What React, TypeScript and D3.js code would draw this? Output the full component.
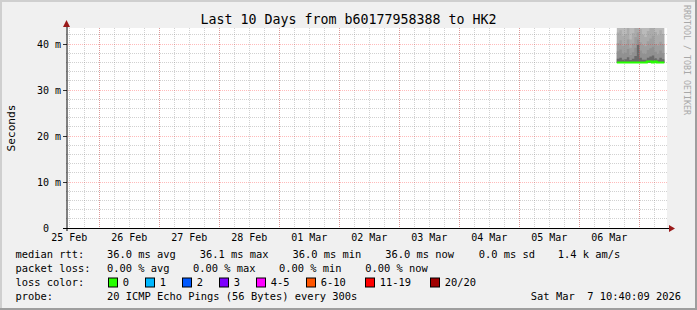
import React, { useEffect } from "react";
import * as d3 from "d3";

// ---------- data ----------
const TITLE = "Last 10 Days from b60177958388 to HK2";
const Y_LABEL = "Seconds";
const WATERMARK = "RRDTOOL / TOBI OETIKER";
const START = new Date(2026, 1, 25, 10, 40, 9);
const END = new Date(2026, 2, 7, 10, 40, 9);
const Y_MAJOR = [0, 10, 20, 30, 40];

// hourly consolidated buckets (start of each step)
const bucketTimes = [
  "2026-03-06T15:00", "2026-03-06T16:00", "2026-03-06T17:00", "2026-03-06T18:00",
  "2026-03-06T19:00", "2026-03-06T20:00", "2026-03-06T21:00", "2026-03-06T22:00",
  "2026-03-06T23:00", "2026-03-07T00:00", "2026-03-07T01:00", "2026-03-07T02:00",
  "2026-03-07T03:00", "2026-03-07T04:00", "2026-03-07T05:00", "2026-03-07T06:00",
  "2026-03-07T07:00", "2026-03-07T08:00", "2026-03-07T09:00", "2026-03-07T10:00",
];
// median rtt (ms)
const medianRtt = [36.0, 36.0, 36.0, 36.0, 36.0, 36.0, 36.0, 36.0, 36.0, 36.0, 36.0, 36.0, 36.2, 36.2, 36.0, 36.2, 36.0, 36.0, 36.0, 36.0];
// smoke: lowest ping and upper ping bands (ms), outer -> inner
const smokeLow = [35.95, 35.95, 35.95, 35.95, 35.95, 35.95, 35.95, 35.95, 35.95, 35.95, 35.95, 35.95, 35.95, 35.95, 35.95, 35.95, 35.95, 35.95, 35.95, 35.95];
const smokeBandA = [58, 61, 55, 57, 63, 54, 59, 66, 70, 60, 56, 55, 62, 64, 67, 58, 55, 60, 57, 57];
const smokeBandB = [42.5, 43.0, 41.8, 42.2, 43.8, 41.0, 42.4, 44.0, 45.0, 43.2, 42.0, 41.5, 42.8, 43.5, 44.2, 42.6, 41.9, 43.0, 42.2, 42.2];
const smokeBandC = [40.2, 40.8, 39.6, 39.9, 41.0, 39.2, 40.1, 41.5, 42.5, 40.4, 39.8, 39.5, 40.6, 41.2, 41.8, 40.0, 39.7, 40.5, 39.9, 39.9];
const smokeBandD = [38.4, 38.8, 37.9, 38.1, 38.9, 37.6, 38.2, 39.2, 41.0, 38.6, 37.9, 37.8, 38.7, 39.1, 39.4, 38.3, 37.8, 38.6, 38.0, 38.0];
const smokeBandE = [36.8, 37.0, 36.6, 36.7, 37.1, 36.5, 36.8, 37.4, 39.8, 37.0, 36.6, 36.6, 37.0, 37.3, 37.5, 36.9, 36.6, 37.0, 36.7, 36.7];
const smokeColors = ["#bababa", "#ababab", "#9e9e9e", "#919191", "#6a6a6a"];

const rttStats = ["36.0 ms avg", "36.1 ms max", "36.0 ms min", "36.0 ms now", "0.0 ms sd", "1.4 k am/s"];
const rttStatX = [107, 199.7, 292.4, 385.2, 478.8, 557.8];
const lossStats = ["0.00 % avg", "0.00 % max", "0.00 % min", "0.00 % now"];
const lossStatX = [107, 193, 279, 365.2];
const lossLabels = ["0", "1", "2", "3", "4-5", "6-10", "11-19", "20/20"];
const lossColors = ["#26ff00", "#00b8ff", "#0059ff", "#7e00ff", "#ff00ff", "#ff5500", "#ff0000", "#a00000"];
const lossBoxX = [108.5, 145.5, 182.5, 219.5, 256.5, 306.5, 365.5, 430.5];
const probeText = "20 ICMP Echo Pings (56 Bytes) every 300s";
const stampText = "Sat Mar  7 10:40:09 2026";

// ---------- layout ----------
const W = 697, H = 310;
const L = 66, R = 666, T = 28, B = 228;
const MONO = "'DejaVu Sans Mono', monospace";

export default function App() {
  useEffect(() => {
    document.body.style.margin = "0";
  }, []);

  const x = d3.scaleTime().domain([START, END]).range([L, R]);
  const y = d3.scaleLinear().domain([0, (B - T) / 4.6]).range([B, T]);
  const px = (v: number) => Math.floor(v) + 0.5;

  const minorX = d3.timeHour.every(6)!.range(START, END);
  const majorX = d3.timeDay.range(START, END);
  const labelX = d3.timeDay
    .range(d3.timeDay.floor(START), END)
    .map((d) => d3.timeHour.offset(d, 12))
    .filter((d) => d >= START && d <= END);
  const minorY = d3.range(2, 44, 2).filter((v) => v % 10 !== 0);
  const fmt = d3.timeFormat("%d %b");

  const times = bucketTimes.map((s) => new Date(s));
  const pts = times.map((t, i) => ({ t, i }));
  const bands = [smokeBandA, smokeBandB, smokeBandC, smokeBandD, smokeBandE];
  const area = (up: number[]) =>
    d3
      .area<{ t: Date; i: number }>()
      .curve(d3.curveStepAfter)
      .x((d) => x(d.t))
      .y0((d) => y(smokeLow[d.i]))
      .y1((d) => y(up[d.i]))(pts) as string;
  const medLine = d3
    .line<{ t: Date; i: number }>()
    .curve(d3.curveStepAfter)
    .x((d) => x(d.t))
    .y((d) => y(medianRtt[d.i]))(pts) as string;

  const minorStroke = "rgba(140,140,140,0.4)";
  const majorStroke = "rgba(255,0,0,0.27)";

  return (
    <svg width={W} height={H} style={{ position: "absolute", left: 0, top: 0, display: "block" }} fontFamily={MONO}>
      <defs>
        <clipPath id="plotclip">
          <rect x={L} y={T} width={R - L + 1} height={B - T} />
        </clipPath>
      </defs>
      <rect x={0} y={0} width={W} height={H} fill="#f0f0f0" />
      <rect x={0} y={0} width={W} height={2} fill="#cfcfcf" />
      <rect x={0} y={0} width={2} height={H} fill="#cfcfcf" />
      <rect x={W - 2} y={0} width={2} height={H} fill="#9e9e9e" />
      <rect x={0} y={H - 2} width={W} height={2} fill="#9e9e9e" />

      <rect x={L} y={T} width={R - L + 1} height={B - T} fill="#ffffff" />

      {/* smoke */}
      <g clipPath="url(#plotclip)">
        {bands.map((b, k) => (
          <path key={k} d={area(b)} fill={smokeColors[k]} />
        ))}
      </g>

      {/* grid */}
      <g fill="none" strokeDasharray="1,1">
        {minorX.map((d, i) => (
          <line key={"mx" + i} x1={px(x(d))} x2={px(x(d))} y1={T} y2={B} stroke={minorStroke} />
        ))}
        {minorY.map((v, i) => (
          <line key={"my" + i} x1={L} x2={R + 1} y1={px(y(v))} y2={px(y(v))} stroke={minorStroke} />
        ))}
        {majorX.map((d, i) => (
          <line key={"Mx" + i} x1={px(x(d))} x2={px(x(d))} y1={T} y2={B} stroke={majorStroke} />
        ))}
        {Y_MAJOR.map((v, i) => (
          <line key={"My" + i} x1={L} x2={R + 1} y1={px(y(v))} y2={px(y(v))} stroke={majorStroke} />
        ))}
      </g>

      {/* median line */}
      <path d={medLine} fill="none" stroke={lossColors[0]} strokeWidth={2} clipPath="url(#plotclip)" />

      {/* axes */}
      {Y_MAJOR.map((v, i) => (
        <line key={"yt" + i} x1={63} x2={67} y1={px(y(v))} y2={px(y(v))} stroke="#333" />
      ))}
      <line x1={67} x2={67} y1={231} y2={24} stroke="#000" />
      <line x1={63} x2={670} y1={228.5} y2={228.5} stroke="#000" />
      <path d="M63,27 L70,27 L66.5,20 Z" fill="#9a1a1a" />
      <path d="M669,225 L669,232 L675,228.5 Z" fill="#9a1a1a" />

      {/* tick labels */}
      <g fontSize={10} fill="#000" style={{ whiteSpace: "pre" }}>
        {Y_MAJOR.map((v, i) => (
          <text key={"yl" + i} x={61} y={y(v) + 3.6} textAnchor="end" xmlSpace="preserve">
            {v === 0 ? "0  " : `${v} m`}
          </text>
        ))}
        {labelX.map((d, i) => (
          <text key={"xl" + i} x={x(d)} y={241} textAnchor="middle">
            {fmt(d)}
          </text>
        ))}
      </g>

      {/* title & labels */}
      <text x={348.5} y={24} textAnchor="middle" fontSize={13.3} fill="#000">
        {TITLE}
      </text>
      <text transform="translate(15,128) rotate(-90)" textAnchor="middle" fontSize={11.2} fill="#000">
        {Y_LABEL}
      </text>
      <text transform="translate(684,5) rotate(90)" fontSize={8.3} fill="#a8a8a8">
        {WATERMARK}
      </text>

      {/* legend */}
      <g fontSize={10.4} fill="#000" style={{ whiteSpace: "pre" }}>
        <text x={15.5} y={258}>median rtt:</text>
        {rttStats.map((s, i) => (
          <text key={"r" + i} x={rttStatX[i]} y={258}>{s}</text>
        ))}
        <text x={15.5} y={272}>packet loss:</text>
        {lossStats.map((s, i) => (
          <text key={"l" + i} x={lossStatX[i]} y={272}>{s}</text>
        ))}
        <text x={15.5} y={286}>loss color:</text>
        {lossLabels.map((s, i) => (
          <g key={"c" + i}>
            <rect x={lossBoxX[i]} y={278} width={9} height={9} fill={lossColors[i]} stroke="#000" strokeWidth={1} />
            <text x={lossBoxX[i] + 14.3} y={286}>{s}</text>
          </g>
        ))}
        <text x={15.5} y={300}>probe:</text>
        <text x={107} y={300}>{probeText}</text>
        <text x={681} y={300} textAnchor="end" xmlSpace="preserve">{stampText}</text>
      </g>
    </svg>
  );
}
